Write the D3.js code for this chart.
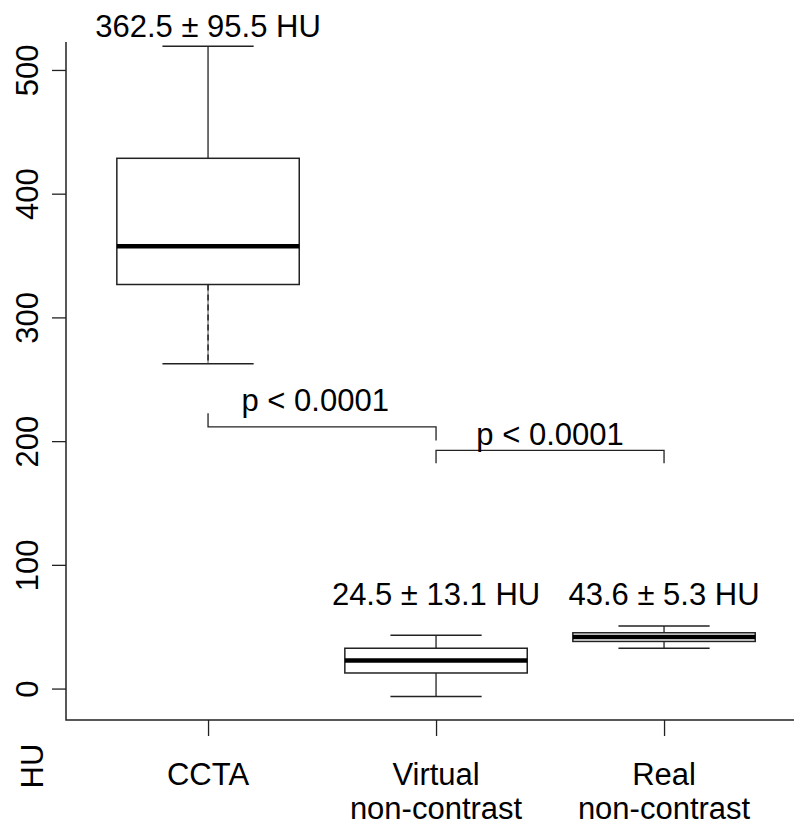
<!DOCTYPE html>
<html>
<head>
<meta charset="utf-8">
<script src="https://cdn.jsdelivr.net/npm/d3@7"></script>
<style>
  body { margin: 0; background: #fff; }
  text { font-family: "Liberation Sans", Arial, sans-serif; fill: #000; }
</style>
</head>
<body>
<div id="chart"></div>
<script>
// data
var groups = ["CCTA", "Virtual|non-contrast", "Real|non-contrast"];
var lowerWhisker = [263, -6, 33];
var q1 = [327, 13, 38.5];
var median = [358, 23, 42];
var q3 = [429, 33, 45.5];
var upperWhisker = [519.5, 43.5, 51];
var meanLabels = ["362.5 \u00b1 95.5 HU", "24.5 \u00b1 13.1 HU", "43.6 \u00b1 5.3 HU"];
var meanLabelAt = [527, 68, 68];
var yTicks = [0, 100, 200, 300, 400, 500];

// significance brackets: from group, to group, bar height, end heights
var brFrom = [1, 2];
var brTo = [2, 3];
var brY = [212, 193];
var brLeftEnd = [223, 182.5];
var brRightEnd = [201, 182.5];
var brText = ["p < 0.0001", "p < 0.0001"];
var brTextX = [1.47, 2.5];
var brTextAt = [224.7, 197.2];

var W = 794, H = 828;
var fs = 31;
var lineCol = "#222";

var svg = d3.select("#chart")
  .append("svg")
    .attr("width", W)
    .attr("height", H);

var x = d3.scaleLinear()
  .domain([0.377, 3.57])
  .range([66, 794]);

var y = d3.scaleLinear()
  .domain([-25, 523])
  .range([720, 42]);

// left axis
var yAxis = svg.append("g")
  .attr("transform", "translate(" + x(0.377) + ",0)")
  .call(d3.axisLeft(y).tickValues(yTicks).tickSize(14).tickSizeOuter(0).tickFormat(d3.format("d")));
yAxis.select(".domain").remove();
yAxis.selectAll(".tick").attr("transform", "translate(0,0)");
yAxis.selectAll(".tick line")
  .attr("y1", function(d) { return y(d); })
  .attr("y2", function(d) { return y(d); })
  .attr("stroke", lineCol).attr("stroke-width", 1.3);
yAxis.selectAll(".tick text")
  .attr("x", null).attr("dy", null).attr("y", 0)
  .attr("transform", function(d) { return "translate(-28," + y(d) + ") rotate(-90)"; })
  .style("font-size", fs + "px")
  .style("text-anchor", "middle");

// box lines (L shape)
svg.append("path")
  .attr("d", "M" + x(0.377) + "," + y(523) + "V" + y(-25) + "H" + x(3.57))
  .attr("fill", "none")
  .attr("stroke", lineCol)
  .attr("stroke-width", 1.5);

// bottom axis ticks
var xAxis = svg.append("g")
  .attr("transform", "translate(0," + y(-25) + ")")
  .call(d3.axisBottom(x).tickValues([1, 2, 3]).tickSize(16).tickSizeOuter(0).tickFormat(""));
xAxis.select(".domain").remove();
xAxis.selectAll("line").attr("stroke", lineCol).attr("stroke-width", 1.3);

// category labels
groups.forEach(function(g, i) {
  var parts = g.split("|");
  parts.forEach(function(p, j) {
    svg.append("text")
      .attr("x", x(i + 1))
      .attr("y", 785 + j * 34)
      .attr("text-anchor", "middle")
      .style("font-size", fs + "px")
      .text(p);
  });
});

// y title
svg.append("text")
  .attr("transform", "translate(42.5,766) rotate(-90)")
  .attr("text-anchor", "middle")
  .style("font-size", fs + "px")
  .text("HU");

// boxplots
var half = 0.4, cap = 0.2;
var boxes = svg.append("g")
  .selectAll("g")
  .data(groups)
  .enter()
  .append("g");

boxes.append("line")
  .attr("x1", function(d, i) { return x(i + 1); })
  .attr("x2", function(d, i) { return x(i + 1); })
  .attr("y1", function(d, i) { return y(q3[i]); })
  .attr("y2", function(d, i) { return y(upperWhisker[i]); })
  .attr("stroke", lineCol).attr("stroke-width", 1.3);

// lower whisker (the CCTA one shows a faint dash pattern)
boxes.append("line")
  .attr("x1", function(d, i) { return x(i + 1); })
  .attr("x2", function(d, i) { return x(i + 1); })
  .attr("y1", function(d, i) { return y(q1[i]); })
  .attr("y2", function(d, i) { return y(lowerWhisker[i]); })
  .attr("stroke", function(d, i) { return i === 0 ? "#777" : lineCol; })
  .attr("stroke-width", 1.3);
boxes.filter(function(d, i) { return i === 0; })
  .append("line")
  .attr("x1", x(1)).attr("x2", x(1))
  .attr("y1", y(q1[0]))
  .attr("y2", y(lowerWhisker[0]))
  .attr("stroke", "#111").attr("stroke-width", 1.3)
  .attr("stroke-dasharray", "6,4");

boxes.append("line")
  .attr("x1", function(d, i) { return x(i + 1 - cap); })
  .attr("x2", function(d, i) { return x(i + 1 + cap); })
  .attr("y1", function(d, i) { return y(upperWhisker[i]); })
  .attr("y2", function(d, i) { return y(upperWhisker[i]); })
  .attr("stroke", lineCol).attr("stroke-width", 1.5);

boxes.append("line")
  .attr("x1", function(d, i) { return x(i + 1 - cap); })
  .attr("x2", function(d, i) { return x(i + 1 + cap); })
  .attr("y1", function(d, i) { return y(lowerWhisker[i]); })
  .attr("y2", function(d, i) { return y(lowerWhisker[i]); })
  .attr("stroke", lineCol).attr("stroke-width", 1.5);

boxes.append("rect")
  .attr("x", function(d, i) { return x(i + 1 - half); })
  .attr("width", function(d, i) { return x(i + 1 + half) - x(i + 1 - half); })
  .attr("y", function(d, i) { return y(q3[i]); })
  .attr("height", function(d, i) { return y(q1[i]) - y(q3[i]); })
  .attr("fill", "white")
  .attr("stroke", lineCol).attr("stroke-width", 1.5);

boxes.append("line")
  .attr("x1", function(d, i) { return x(i + 1 - half); })
  .attr("x2", function(d, i) { return x(i + 1 + half); })
  .attr("y1", function(d, i) { return y(median[i]); })
  .attr("y2", function(d, i) { return y(median[i]); })
  .attr("stroke", "#000").attr("stroke-width", 4.5);

boxes.append("text")
  .attr("x", function(d, i) { return x(i + 1); })
  .attr("y", function(d, i) { return y(meanLabelAt[i]); })
  .attr("text-anchor", "middle")
  .style("font-size", fs + "px")
  .text(function(d, i) { return meanLabels[i]; });

// significance brackets
brFrom.forEach(function(f, k) {
  svg.append("path")
    .attr("d", "M" + x(f) + "," + y(brLeftEnd[k]) +
               "V" + y(brY[k]) +
               "H" + x(brTo[k]) +
               "V" + y(brRightEnd[k]))
    .attr("fill", "none")
    .attr("stroke", lineCol)
    .attr("stroke-width", 1.3);
  svg.append("text")
    .attr("x", x(brTextX[k]))
    .attr("y", y(brTextAt[k]))
    .attr("text-anchor", "middle")
    .style("font-size", fs + "px")
    .text(brText[k]);
});
</script>
</body>
</html>
